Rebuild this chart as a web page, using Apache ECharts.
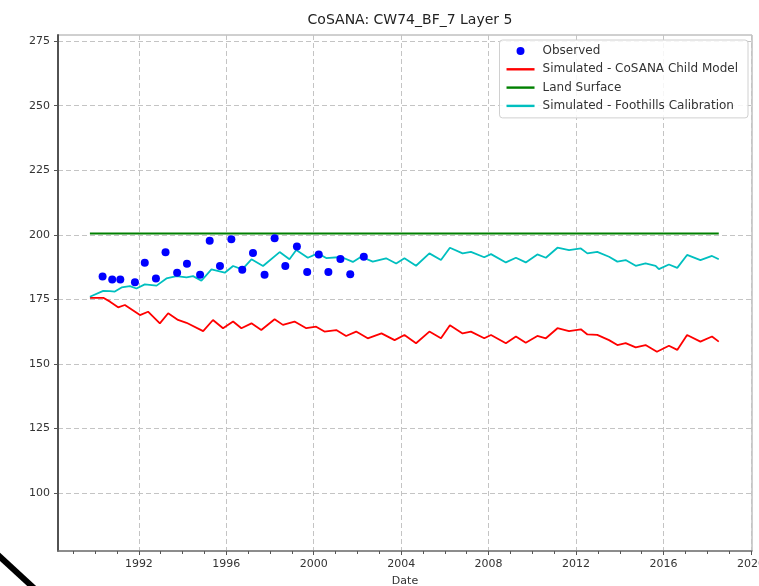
<!DOCTYPE html>
<html><head><meta charset="utf-8">
<script src="https://cdn.jsdelivr.net/npm/echarts@6/dist/echarts.min.js"></script>
<style>html,body{margin:0;padding:0;background:#fff}#c{width:759px;height:586px}</style>
</head><body><div id="c"></div>
<script>
const chartTitle = 'CoSANA: CW74_BF_7 Layer 5';
const xAxisName = 'Date';
const xTickLabels = [1992, 1996, 2000, 2004, 2008, 2012, 2016, 2020];
const xMinorTicks = [1989,1990,1991,1993,1994,1995,1997,1998,1999,2001,2002,2003,2005,2006,2007,2009,2010,2011,2013,2014,2015,2017,2018,2019];
const yTickLabels = [100, 125, 150, 175, 200, 225, 250, 275];
const seriesNames = ['Observed', 'Simulated - CoSANA Child Model', 'Land Surface', 'Simulated - Foothills Calibration'];

const obsYears = [1990.34,1990.78,1991.15,1991.82,1992.27,1992.78,1993.22,1993.75,1994.20,1994.80,1995.24,1995.71,1996.23,1996.73,1997.22,1997.75,1998.21,1998.70,1999.23,1999.70,2000.23,2000.67,2001.22,2001.67,2002.29];
const obsValues = [183.8,182.7,182.7,181.6,189.2,183.1,193.2,185.3,188.8,184.5,197.7,187.9,198.3,186.5,192.9,184.5,198.7,187.9,195.5,185.6,192.4,185.6,190.6,184.7,191.5];

const childYears = [1989.76,1990.37,1990.68,1991.05,1991.36,1992.05,1992.42,1992.96,1993.34,1993.79,1994.18,1994.94,1995.39,1995.85,1996.31,1996.69,1997.15,1997.60,1998.21,1998.59,1999.12,1999.66,2000.11,2000.49,2001.03,2001.48,2001.94,2002.47,2003.10,2003.70,2004.15,2004.68,2005.29,2005.82,2006.23,2006.81,2007.19,2007.80,2008.11,2008.79,2009.25,2009.70,2010.23,2010.62,2011.15,2011.68,2012.22,2012.52,2012.97,2013.51,2013.89,2014.27,2014.73,2015.18,2015.70,2016.25,2016.63,2017.08,2017.69,2018.22,2018.53];
const childValues = [175.6,175.6,174.1,171.9,172.8,168.9,170.2,165.7,169.6,167.0,165.9,162.7,167.0,163.8,166.4,163.8,165.7,163.1,167.3,165.1,166.4,163.8,164.4,162.5,163.1,160.8,162.5,159.9,161.8,159.2,161.2,158.0,162.5,159.9,165.0,161.8,162.5,159.9,161.2,158.0,160.6,158.2,160.8,159.9,163.8,162.7,163.4,161.4,161.2,159.2,157.3,158.0,156.4,157.3,154.7,157.0,155.4,161.2,158.6,160.6,158.6];

const landYears = [1989.76, 2018.53];
const landValues = [200.5, 200.5];

const footYears = [1989.76,1990.37,1990.68,1990.90,1991.21,1991.59,1991.89,1992.27,1992.81,1993.26,1993.72,1994.18,1994.48,1994.86,1995.32,1995.93,1996.31,1996.73,1997.15,1997.68,1998.44,1998.89,1999.20,1999.73,2000.19,2000.57,2001.26,2001.79,2002.17,2002.70,2003.31,2003.77,2004.15,2004.68,2005.29,2005.82,2006.23,2006.81,2007.19,2007.80,2008.11,2008.79,2009.25,2009.70,2010.23,2010.62,2011.15,2011.68,2012.22,2012.52,2012.97,2013.51,2013.89,2014.27,2014.73,2015.18,2015.64,2015.79,2016.25,2016.63,2017.08,2017.69,2018.22,2018.53];
const footValues = [176.0,178.3,178.2,178.0,179.6,180.1,179.2,180.8,180.3,183.1,184.0,183.5,184.0,182.2,186.6,185.3,187.9,186.6,190.5,187.9,193.3,190.5,194.1,191.1,192.8,191.0,191.4,189.5,191.5,189.6,190.9,188.9,190.9,188.0,192.8,190.2,195.0,192.8,193.4,191.3,192.5,189.3,191.1,189.3,192.4,191.1,195.0,194.1,194.7,192.8,193.4,191.5,189.6,190.2,188.0,188.9,188.0,186.7,188.5,187.2,192.2,190.2,191.8,190.5];

const zip = (a, b) => a.map((v, i) => [v, b[i]]);
const FONT = 'DejaVu Sans';
const gridLine = { show: true, lineStyle: { color: '#c4c4c4', type: [5, 3], width: 1 } };
const lineIcon = 'path://M0,0L28,0L28,2.4L0,2.4Z';

const chart = echarts.init(document.getElementById('c'), null, { renderer: 'canvas' });
chart.setOption({
  animation: false,
  backgroundColor: '#fff',
  title: { text: chartTitle, left: 405, textAlign: 'center', top: 8,
    textStyle: { fontFamily: FONT, fontSize: 14, fontWeight: 'normal', color: '#222' } },
  grid: { left: 58, right: 7, top: 35, bottom: 35, outerBoundsMode: 'none', containLabel: false,
    show: true, borderColor: '#a0a0a0', borderWidth: 1, backgroundColor: 'transparent' },
  legend: {
    orient: 'vertical', right: 11, top: 40, padding: [5, 10, 6, 7],
    itemWidth: 28, itemHeight: 8, itemGap: 6.3, symbolKeepAspect: true,
    borderColor: '#d0d0d0', borderWidth: 1, borderRadius: 3, backgroundColor: 'rgba(255,255,255,0.85)',
    textStyle: { fontFamily: FONT, fontSize: 12, color: '#333', padding: [0, 0, 0, 3] },
    data: [
      { name: seriesNames[0], icon: 'circle' },
      { name: seriesNames[1], icon: lineIcon },
      { name: seriesNames[2], icon: lineIcon },
      { name: seriesNames[3], icon: lineIcon }
    ]
  },
  xAxis: [{
    type: 'value', min: 1988.3, max: 2020.05, position: 'bottom',
    name: xAxisName, nameLocation: 'middle', nameGap: 25,
    nameTextStyle: { fontFamily: FONT, fontSize: 11, color: '#333' },
    axisLine: { show: true, lineStyle: { color: '#777', width: 1.5 } },
    axisTick: { show: true, customValues: xTickLabels, length: 4, lineStyle: { color: '#555' } },
    axisLabel: { customValues: xTickLabels, margin: 8, fontFamily: FONT, fontSize: 11, color: '#333', formatter: v => String(v) },
    splitLine: gridLine
  }, {
    type: 'value', min: 1988.3, max: 2020.05, position: 'bottom',
    axisLine: { show: false },
    axisTick: { show: true, customValues: xMinorTicks, length: 3, lineStyle: { color: '#555' } },
    axisLabel: { show: false }, splitLine: { show: false }
  }],
  yAxis: {
    type: 'value', min: 77.5, max: 277.4,
    axisLine: { show: true, lineStyle: { color: '#444', width: 1.8 } },
    axisTick: { show: true, customValues: yTickLabels, length: 4, lineStyle: { color: '#555' } },
    axisLabel: { customValues: yTickLabels, margin: 8, fontFamily: FONT, fontSize: 11, color: '#333' },
    splitLine: gridLine
  },
  series: [
    { name: seriesNames[0], type: 'scatter', data: zip(obsYears, obsValues), symbol: 'circle', symbolSize: 8,
      itemStyle: { color: '#0000ff', opacity: 1 }, z: 5 },
    { name: seriesNames[1], type: 'line', data: zip(childYears, childValues), symbol: 'none', showSymbol: false,
      lineStyle: { color: '#ff0000', width: 1.8 }, itemStyle: { color: '#ff0000' } },
    { name: seriesNames[2], type: 'line', data: zip(landYears, landValues), symbol: 'none', showSymbol: false,
      lineStyle: { color: '#008000', width: 1.8 }, itemStyle: { color: '#008000' } },
    { name: seriesNames[3], type: 'line', data: zip(footYears, footValues), symbol: 'none', showSymbol: false,
      lineStyle: { color: '#00bfbf', width: 1.8 }, itemStyle: { color: '#00bfbf' } }
  ],
  graphic: [{ type: 'line', shape: { x1: -2, y1: 555, x2: 36, y2: 590 }, style: { stroke: '#000', lineWidth: 6 }, silent: true }]
});
</script></body></html>
